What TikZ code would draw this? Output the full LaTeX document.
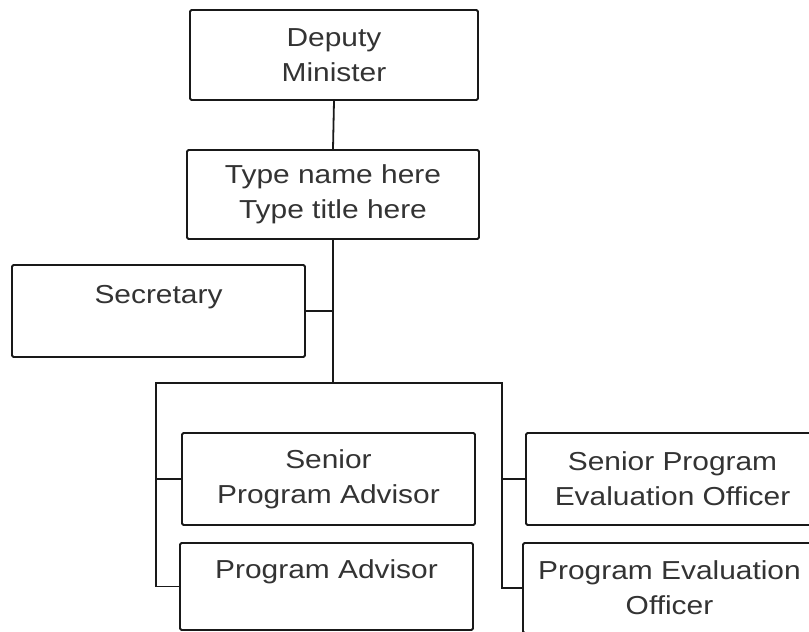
\documentclass[tikz,border=0pt]{standalone}
\usepackage{fontspec}
\setmainfont{Liberation Sans}[FakeStretch=1.15]
\begin{document}
\begin{tikzpicture}[x=1pt,y=-1pt,
  orgbox/.style={draw=black!90, line width=1.8pt, rounded corners=1.5pt,
    inner sep=0pt, align=center, text=black!80,
    font=\fontsize{26}{35}\selectfont},
  caption/.style={text=black!80, font=\fontsize{26}{35}\selectfont,
    inner sep=0pt, anchor=base},
  link/.style={draw=black!90, line width=1.8pt}]
\useasboundingbox (0,0) rectangle (809,632);
\clip (0,0) rectangle (809,632);

% boxes
\node[orgbox, minimum width=288pt, minimum height=90pt] (dm) at (334,55) {Deputy\\Minister};
\node[orgbox, minimum width=292pt, minimum height=89pt] (tn) at (333,194.5) {Type name here\\Type title here};
\node[orgbox, minimum width=293pt, minimum height=92pt] (sec) at (158.5,311) {};
\node[caption] (sec-text) at (158.5,303) {Secretary};
\node[orgbox, minimum width=293pt, minimum height=92pt] (spa) at (328.5,479) {Senior\\Program Advisor};
\node[orgbox, minimum width=293pt, minimum height=87pt] (pa) at (326.5,586.5) {};
\node[caption] (pa-text) at (326.5,578) {Program Advisor};
\node[orgbox, minimum width=293pt, minimum height=92pt] (speo) at (672.5,479) {Senior Program\\Evaluation Officer};
\node[orgbox, minimum width=293pt, minimum height=90pt] (peo) at (669.5,588) {Program Evaluation\\Officer};

% bus bar ends
\coordinate (lb) at (156,383);
\coordinate (rb) at (502,383);

% connectors
\draw[link] (dm.south) -- (tn.north);
\draw[link] (tn.south) -- (tn.south |- lb);
\draw[link] (sec.east) -- (sec.east -| tn.south);
\draw[link] (pa.west) -| (lb) -- (rb) |- (peo.west);
\draw[link] (spa.west) -- (spa.west -| lb);
\draw[link] (speo.west) -- (speo.west -| rb);
\end{tikzpicture}
\end{document}
